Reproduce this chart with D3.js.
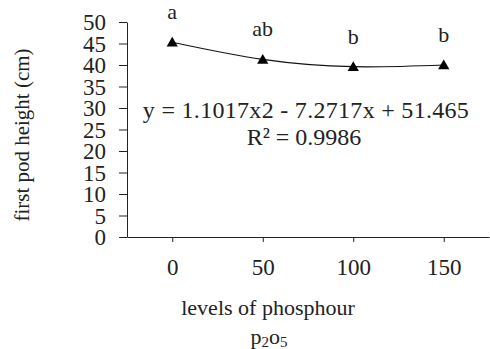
<!DOCTYPE html>
<html>
<head>
<meta charset="utf-8">
<script src="https://cdn.jsdelivr.net/npm/d3@7"></script>
<style>
  body { margin: 0; background: #fff; }
</style>
</head>
<body>
<svg id="chart" width="490" height="349"></svg>
<script>
// phosphorus levels and first pod height readings
const levels = [0, 50, 100, 150];
const podHeight = [45.3, 41.3, 39.6, 40.0];
const groups = ['a', 'ab', 'b', 'b'];
const yTicks = [0, 5, 10, 15, 20, 25, 30, 35, 40, 45, 50];
const equation = 'y = 1.1017x2 - 7.2717x + 51.465';
const rSquared = 'R² = 0.9986';

const svg = d3.select('#chart');
const ink = '#222';
const serif = '"Liberation Serif"';

const x = d3.scalePoint()
  .domain(levels)
  .range([127, 489])
  .padding(0.5);

const y = d3.scaleLinear()
  .domain([0, 50])
  .range([237, 22]);

// y axis
const yAxis = svg.append('g')
  .attr('transform', 'translate(127,0)')
  .call(d3.axisLeft(y).tickValues(yTicks).tickSize(8).tickSizeOuter(0).tickPadding(13));
yAxis.select('.domain').attr('stroke', ink);
yAxis.selectAll('.tick line').attr('stroke', ink);
yAxis.selectAll('.tick text')
  .style('font-family', serif)
  .attr('font-size', 23)
  .attr('fill', ink)
  .attr('dy', '0.34em');

// x axis
const xAxis = svg.append('g')
  .attr('transform', 'translate(0,237)')
  .call(d3.axisBottom(x).tickSize(5).tickSizeOuter(0).tickPadding(17));
xAxis.select('.domain').attr('stroke', ink);
xAxis.selectAll('.tick line').attr('stroke', ink);
xAxis.selectAll('.tick text')
  .style('font-family', serif)
  .attr('font-size', 23)
  .attr('fill', ink);

// curve through the means
const line = d3.line()
  .x((d, i) => x(levels[i]))
  .y(d => y(d))
  .curve(d3.curveNatural);

svg.append('path')
  .datum(podHeight)
  .attr('d', line)
  .attr('fill', 'none')
  .attr('stroke', '#111')
  .attr('stroke-width', 1.2);

// triangle markers
svg.selectAll('.pt')
  .data(podHeight)
  .enter()
  .append('path')
  .attr('class', 'pt')
  .attr('transform', (d, i) => `translate(${x(levels[i])},${y(d) + 1})`)
  .attr('d', d3.symbol().type(d3.symbolTriangle).size(55))
  .attr('fill', '#000');

// significance letters
svg.selectAll('.grp')
  .data(groups)
  .enter()
  .append('text')
  .attr('class', 'grp')
  .attr('x', (d, i) => x(levels[i]))
  .attr('y', (d, i) => y(podHeight[i]) - 23)
  .attr('text-anchor', 'middle')
  .style('font-family', serif)
  .attr('font-size', 22)
  .attr('fill', ink)
  .text(d => d);

// trendline equation
svg.append('text')
  .attr('x', 306)
  .attr('y', 118)
  .attr('text-anchor', 'middle')
  .style('font-family', serif)
  .style('letter-spacing', '0.3px')
  .attr('font-size', 24)
  .attr('fill', ink)
  .text(equation);

svg.append('text')
  .attr('x', 304)
  .attr('y', 145)
  .attr('text-anchor', 'middle')
  .style('font-family', serif)
  .attr('font-size', 24)
  .attr('fill', ink)
  .text(rSquared);

// axis titles
svg.append('text')
  .attr('transform', 'translate(29,135) rotate(-90)')
  .attr('text-anchor', 'middle')
  .style('font-family', serif)
  .attr('font-size', 21)
  .attr('fill', ink)
  .text('first pod height (cm)');

svg.append('text')
  .attr('x', 268)
  .attr('y', 315)
  .attr('text-anchor', 'middle')
  .style('font-family', serif)
  .attr('font-size', 22)
  .attr('fill', ink)
  .text('levels of phosphour');

const p2o5 = svg.append('text')
  .attr('x', 269)
  .attr('y', 344)
  .attr('text-anchor', 'middle')
  .style('font-family', serif)
  .attr('font-size', 22)
  .attr('fill', ink);
p2o5.append('tspan').text('p');
p2o5.append('tspan').attr('font-size', 15).attr('dy', 3).text('2');
p2o5.append('tspan').attr('dy', -3).text('o');
p2o5.append('tspan').attr('font-size', 15).attr('dy', 3).text('5');
</script>
</body>
</html>
